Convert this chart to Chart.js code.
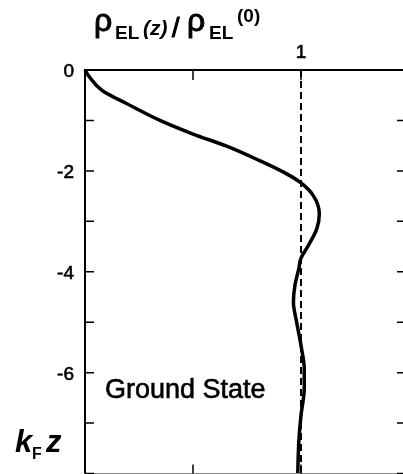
<!DOCTYPE html>
<html>
<head>
<meta charset="utf-8">
<script src="https://cdn.jsdelivr.net/npm/chart.js@4/dist/chart.umd.min.js"></script>
<style>
  html, body { margin: 0; padding: 0; background: #fff; overflow: hidden; }
  canvas { display: block; }
</style>
</head>
<body>
<canvas id="mycanvas" width="410" height="474"></canvas>
<script>
// depth below surface (k_F z) and normalised density rho_EL(z)/rho_EL(0)
var depth = [0, -0.1, -0.2, -0.3, -0.43, -0.66, -1.0, -1.27, -1.51, -1.8, -2.06, -2.24, -2.49,
             -2.85, -3.15, -3.48, -3.73, -3.94, -4.27, -4.6, -5.0, -5.46, -5.92, -6.32,
             -6.85, -7.37, -8.0];
var density = [0, 0.014, 0.032, 0.052, 0.088, 0.19, 0.347, 0.5, 0.656, 0.81, 0.934, 1.0, 1.057,
               1.085, 1.073, 1.034, 1.0, 0.99, 0.972, 0.965, 0.98, 1.0, 1.015, 1.015,
               1.0, 0.99, 0.985];

var bulkLevel = 1;
var yTicks = [0, -1, -2, -3, -4, -5, -6, -7, -8];
var yTickLabels = ['0', '', '-2', '', '-4', '', '-6', '', ''];
var topTicks = [0.5, 1];
var topTickLabels = ['', '1'];

var curve = [];
for (var i in depth) {
  curve.push({x: density[i], y: depth[i]});
}

var FONT = '"Liberation Sans", Arial, Helvetica, sans-serif';

// filled text with a thin outline so it has some weight
function heavyText(ctx, s, x, y, w) {
  ctx.fillText(s, x, y);
  ctx.lineWidth = w || 0.6;
  ctx.strokeText(s, x, y);
}

var frame = {
  id: 'frame',
  afterDatasetsDraw: function(chart) {
    var ctx = chart.ctx;
    var xs = chart.scales.x, ys = chart.scales.y;
    var a = chart.chartArea;
    ctx.save();
    ctx.strokeStyle = '#000';
    ctx.fillStyle = '#000';

    // top and left axes
    ctx.lineWidth = 2;
    ctx.beginPath();
    ctx.moveTo(a.right, a.top);
    ctx.lineTo(a.left, a.top);
    ctx.lineTo(a.left, a.bottom);
    ctx.stroke();
    ctx.lineWidth = 1;
    ctx.strokeStyle = '#888';
    ctx.beginPath();
    ctx.moveTo(a.left, a.bottom);
    ctx.lineTo(a.right, a.bottom);
    ctx.stroke();
    ctx.strokeStyle = '#000';
    ctx.beginPath();
    ctx.moveTo(a.right, a.top);
    ctx.lineTo(a.right, a.bottom);
    ctx.stroke();

    // ticks on left and right
    ctx.lineWidth = 1.5;
    yTicks.forEach(function(v) {
      var py = ys.getPixelForValue(v);
      ctx.beginPath();
      ctx.moveTo(a.left, py);
      ctx.lineTo(a.left + 9, py);
      ctx.moveTo(a.right, py);
      ctx.lineTo(a.right - 7, py);
      ctx.stroke();
    });
    // ticks on top and bottom
    topTicks.forEach(function(v) {
      var px = xs.getPixelForValue(v);
      ctx.beginPath();
      ctx.moveTo(px, a.top);
      ctx.lineTo(px, a.top + 10);
      ctx.moveTo(px, a.bottom);
      ctx.lineTo(px, a.bottom - 9);
      ctx.stroke();
    });

    // tick labels
    ctx.font = '19px ' + FONT;
    ctx.textAlign = 'right';
    ctx.textBaseline = 'middle';
    yTicks.forEach(function(v, k) {
      if (yTickLabels[k]) heavyText(ctx, yTickLabels[k], 74, ys.getPixelForValue(v) + 2);
    });
    ctx.textAlign = 'center';
    ctx.textBaseline = 'alphabetic';
    topTicks.forEach(function(v, k) {
      if (topTickLabels[k]) heavyText(ctx, topTickLabels[k], xs.getPixelForValue(v), 58);
    });

    // axis title on top
    ctx.textAlign = 'left';
    ctx.font = '32px ' + FONT;
    heavyText(ctx, 'ρ', 94, 31, 1);
    heavyText(ctx, 'ρ', 187, 31, 1);
    ctx.font = 'bold 19px ' + FONT;
    ctx.fillText('EL', 115, 39);
    ctx.fillText('EL', 209, 39);
    ctx.font = 'italic bold 21px ' + FONT;
    ctx.fillText('(z)', 143, 35);
    ctx.font = '27px ' + FONT;
    heavyText(ctx, '/', 172, 37, 1);
    ctx.font = 'bold 19px ' + FONT;
    ctx.fillText('(0)', 237, 22);

    // depth label
    ctx.font = 'italic bold 31px ' + FONT;
    ctx.fillText('k', 15, 452);
    ctx.fillText('z', 46, 452);
    ctx.font = 'bold 16px ' + FONT;
    ctx.fillText('F', 32, 459);

    ctx.font = '27px ' + FONT;
    heavyText(ctx, 'Ground State', 105, 398);
    ctx.restore();
  }
};

var ctx = document.getElementById('mycanvas');

var chart = new Chart(ctx, {
  type: 'scatter',
  data: {
    datasets: [
      {
        label: 'bulk',
        data: [{x: bulkLevel, y: 0}, {x: bulkLevel, y: -8}],
        showLine: true,
        borderColor: '#000',
        borderWidth: 2,
        borderDash: [7, 4],
        pointRadius: 0
      },
      {
        label: 'density',
        data: curve,
        showLine: true,
        borderColor: '#000',
        borderWidth: 3.5,
        cubicInterpolationMode: 'monotone',
        pointRadius: 0,
        clip: false
      }
    ]
  },
  options: {
    indexAxis: 'y',
    responsive: false,
    animation: false,
    layout: { padding: { left: 85, top: 70, right: 6, bottom: 0.5 } },
    plugins: { legend: { display: false }, tooltip: { enabled: false } },
    scales: {
      x: { type: 'linear', display: false, min: 0, max: 1.477 },
      y: { type: 'linear', display: false, min: -8, max: 0 }
    }
  },
  plugins: [frame]
});
</script>
</body>
</html>
